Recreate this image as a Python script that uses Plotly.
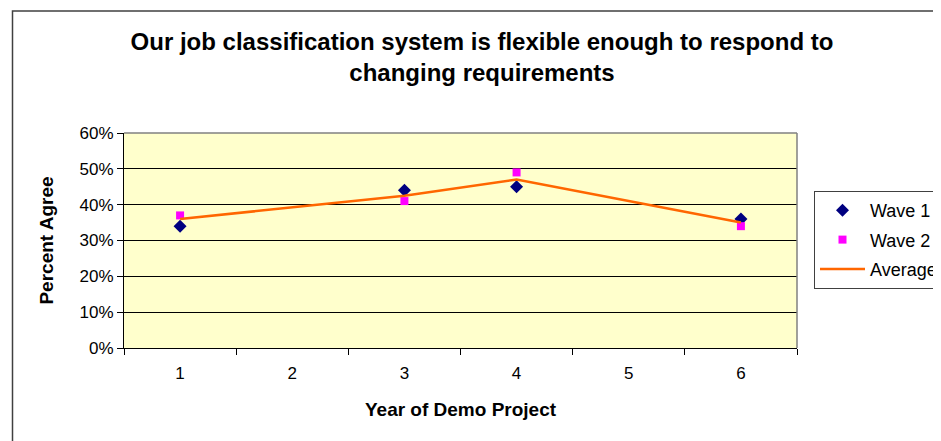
import plotly.graph_objects as go

# survey results, percent agree by year of the demo project
years = ["1", "2", "3", "4", "5", "6"]
wave1 = [34, None, 44, 45, None, 36]
wave2 = [37, None, 41, 49, None, 34]
average = [36, None, 42.5, 47, None, 35]

font = "Arial, Liberation Sans, sans-serif"

# page body has an 8px margin, so the figure is sized and placed to fit the window
W, H = 933, 433
L, R, T, B = 116, 144, 125, 93
pw, ph = W - L - R, H - T - B

fig = go.Figure()
fig.add_trace(go.Scatter(x=years, y=wave1, name="Wave 1", mode="markers", legendgroup="a",
                         marker=dict(symbol="diamond", size=10, color="#000080")))
fig.add_trace(go.Scatter(x=years, y=wave2, name="Wave 2", mode="markers", legendgroup="b",
                         marker=dict(symbol="square", size=8, color="#FF00FF")))
fig.add_trace(go.Scatter(x=years, y=average, name="Average", mode="lines", legendgroup="c",
                         connectgaps=True, line=dict(color="#FF6600", width=2.5)))

fig.update_layout(
    width=W, height=H,
    margin=dict(l=L, r=R, t=T, b=B, autoexpand=False),
    paper_bgcolor="white",
    plot_bgcolor="#FFFFCC",
    font=dict(family=font, size=17, color="black"),
    title=dict(text="<b>Our job classification system is flexible enough to respond to<br>changing requirements</b>",
               x=474 / W, xref="container", xanchor="center",
               y=1 - 42 / H, yref="container", yanchor="middle",
               font=dict(size=24, family=font)),
    legend=dict(x=(806 - L) / pw, xanchor="left", y=(H - B - 183) / ph, yanchor="top",
                bordercolor="#404040", borderwidth=1, bgcolor="white",
                font=dict(size=18, family=font), tracegroupgap=3, itemwidth=45),
    xaxis=dict(type="category", range=[-0.5, 5.5], tickson="boundaries", ticks="outside",
               ticklen=6, tickcolor="black", showline=True, linecolor="black",
               showgrid=False, tickfont=dict(size=17), ticklabelstandoff=10,
               title=dict(text="<b>Year of Demo Project</b>", font=dict(size=19), standoff=20)),
    yaxis=dict(range=[0, 60], dtick=10, ticksuffix="%", ticks="outside",
               ticklen=6, tickcolor="black", showline=True, linecolor="black",
               showgrid=True, gridcolor="black", gridwidth=1, zeroline=False,
               tickfont=dict(size=17),
               title=dict(text="<b>Percent Agree</b>", font=dict(size=19), standoff=20)),
    shapes=[
        # grey top and right edges of the plot area
        dict(type="line", xref="paper", yref="paper", x0=0, x1=1, y0=1, y1=1,
             line=dict(color="#808080", width=1.5)),
        dict(type="line", xref="paper", yref="paper", x0=1, x1=1, y0=0, y1=1,
             line=dict(color="#808080", width=1.5)),
        # outer chart border
        dict(type="rect", xref="paper", yref="paper",
             x0=(4.5 - L) / pw, x1=(W + 20 - L) / pw,
             y0=-(B + 20) / ph, y1=(H - B - 3) / ph,
             line=dict(color="#404040", width=1.5)),
    ],
)

fig.write_html("out.html")
